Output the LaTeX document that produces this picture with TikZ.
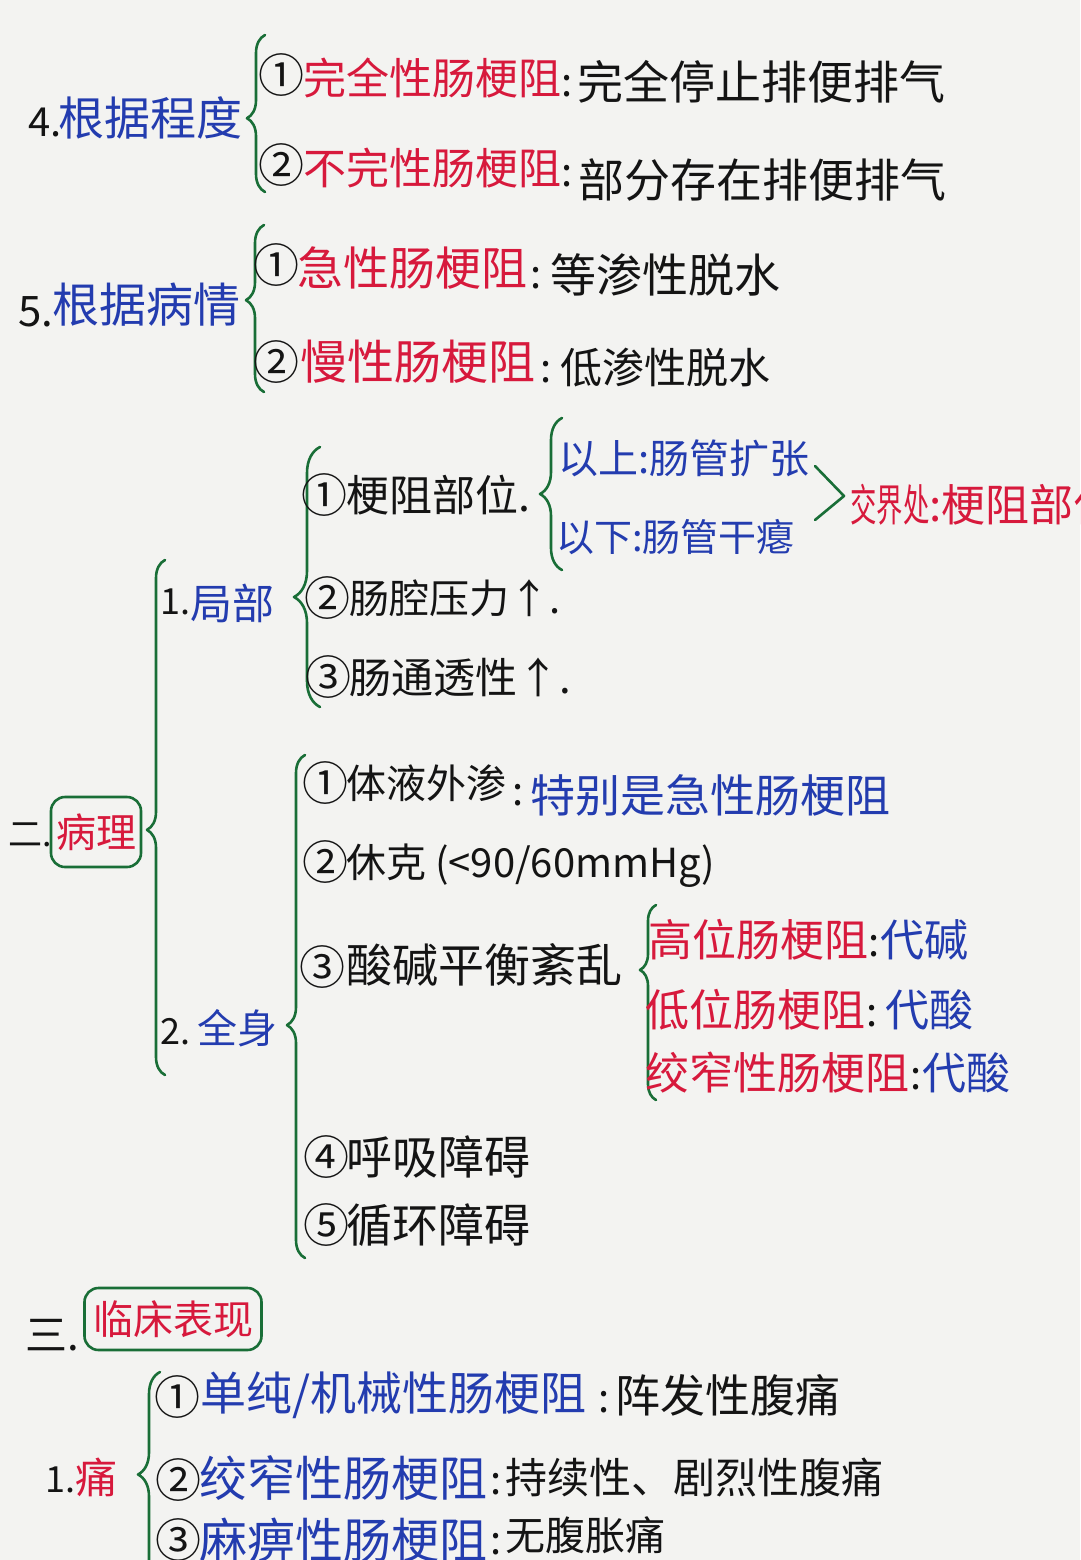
\documentclass[tikz,border=0pt]{standalone}
\usepackage{fontspec}
\newfontfamily\cjk{Noto Sans CJK SC}
\usetikzlibrary{decorations.pathreplacing}
\definecolor{bgc}{RGB}{243,243,241}
\definecolor{pblue}{RGB}{35,60,175}
\definecolor{pred}{RGB}{215,25,60}
\definecolor{pgreen}{RGB}{25,110,55}
\definecolor{pblack}{RGB}{20,20,20}
\begin{document}
\begin{tikzpicture}[x=1pt,y=-1pt,
  every node/.style={inner sep=0pt, anchor=west},
  txt/.style={font=\cjk\fontsize{#1pt}{#1pt}\selectfont, text=pblack},
  txt/.default=44,
  blu/.style={txt=#1, text=pblue}, blu/.default=44,
  rd/.style={txt=#1, text=pred}, rd/.default=44,
  num/.style={txt=46},
  brc/.style n args={2}{draw=pgreen, line width=2.6pt, line cap=round, line join=round,
     decorate, decoration={brace, amplitude=#1, aspect=#2}},
  frame/.style={draw=pgreen, line width=2.6pt, rounded corners=14pt, anchor=center, inner sep=4pt}
]
\clip (0,0) rectangle (1080,1560);
\fill[bgc] (0,0) rectangle (1080,1560);
\useasboundingbox (0,0) rectangle (1080,1560);

% ---------- 4. 根据程度 ----------
\node[txt=40] (n4num) at (28,122) {4.};
\node[blu=46] (n4) at (58,118) {根据程度};
\coordinate (b4t) at (265,35);
\coordinate (b4b) at (265,192);
\draw[brc={18pt}{0.47}] (b4b) -- (b4t);
\node[num] (c41) at (258,75) {①};
\node[rd=43] (r41) at (303,78) {完全性肠梗阻};
\node[txt=40] (k41) at (561,86) {:};
\node[txt=46] (d41) at (577,82) {完全停止排便排气};
\node[num] (c42) at (258,165) {②};
\node[rd=43] (r42) at (303,168) {不完性肠梗阻};
\node[txt=40] (k42) at (561,176) {:};
\node[txt=46] (d42) at (578,180) {部分存在排便排气};

% ---------- 5. 根据病情 ----------
\node[txt=42] (n5num) at (18,312) {5.};
\node[blu=47] (n5) at (52,305) {根据病情};
\coordinate (b5t) at (264,225);
\coordinate (b5b) at (264,392);
\draw[brc={18pt}{0.55}] (b5b) -- (b5t);
\node[num] (c51) at (253,265) {①};
\node[rd=46] (r51) at (297,268) {急性肠梗阻};
\node[txt=40] (k51) at (530,278) {:};
\node[txt=46] (d51) at (550,275) {等渗性脱水};
\node[num] (c52) at (253,362) {②};
\node[rd=47] (r52) at (300,362) {慢性肠梗阻};
\node[txt=40] (k52) at (540,372) {:};
\node[txt=42] (d52) at (560,368) {低渗性脱水};

% ---------- 二. 病理 ----------
\node[txt=34] (n2num) at (8,835) {二.};
\node[frame, rd=40, minimum width=90pt, minimum height=70pt] (bl) at (96,832) {病理};
\coordinate (bBt) at (165,560);
\coordinate (bBb) at (165,1075);
\draw[brc={18pt}{0.476}] (bBb) -- (bBt);

% 1. 局部
\node[txt=36] (l1num) at (160,602) {1.};
\node[blu=42] (l1) at (190,603) {局部};
\coordinate (bLt) at (320,447);
\coordinate (bLb) at (320,707);
\draw[brc={26pt}{0.423}] (bLb) -- (bLt);
\node[num] (c11) at (301,495) {①};
\node[txt=43] (i11) at (346,495) {梗阻部位.};
\coordinate (bPt) at (562,418);
\coordinate (bPb) at (562,570);
\draw[brc={22pt}{0.5}] (bPb) -- (bPt);
\node[blu=40] (up) at (558,458) {以上:肠管扩张};
\node[blu=38] (dn) at (556,537) {以下:肠管干瘪};
\coordinate (gA) at (815,466);
\coordinate (gT) at (844,496);
\coordinate (gB) at (815,520);
\draw[draw=pgreen, line width=2.6pt, line cap=round, line join=round] (gA) -- (gT) -- (gB);
\node[rd=44] (jx) at (850,505) {\scalebox{0.6}[1]{交界处}:梗阻部位};
\node[num] (c12) at (304,598) {②};
\node[txt=40] (i12) at (349,598) {肠腔压力↑.};
\node[num] (c13) at (305,677) {③};
\node[txt=42] (i13) at (349,677) {肠通透性↑.};

% 2. 全身
\node[txt=36] (l2num) at (160,1032) {2.};
\node[blu=40] (l2) at (197,1028) {全身};
\coordinate (bQt) at (305,755);
\coordinate (bQb) at (305,1258);
\draw[brc={18pt}{0.463}] (bQb) -- (bQt);
\node[num] (c21) at (302,783) {①};
\node[txt=40] (i21) at (346,783) {体液外渗};
\node[txt=40] (k21) at (512,795) {:};
\node[blu=45] (d21) at (530,795) {特别是急性肠梗阻};
\node[num] (c22) at (302,862) {②};
\node[txt=40] (i22) at (346,866) {休克 (<90/60mmHg)};
\node[num] (c23) at (299,967) {③};
\node[txt=46] (i23) at (346,965) {酸碱平衡紊乱};
\coordinate (bAt) at (656,905);
\coordinate (bAb) at (656,1100);
\draw[brc={16pt}{0.667}] (bAb) -- (bAt);
\node[rd=44] (a1) at (648,940) {高位肠梗阻};
\node[txt=40] (ka1) at (868,946) {:};
\node[blu=44] (v1) at (880,940) {代碱};
\node[rd=44] (a2) at (645,1010) {低位肠梗阻};
\node[txt=40] (ka2) at (866,1016) {:};
\node[blu=44] (v2) at (885,1010) {代酸};
\node[rd=44] (a3) at (645,1073) {绞窄性肠梗阻};
\node[txt=40] (ka3) at (910,1079) {:};
\node[blu=44] (v3) at (922,1073) {代酸};
\node[num] (c24) at (303,1157) {④};
\node[txt=46] (i24) at (346,1157) {呼吸障碍};
\node[num] (c25) at (303,1225) {⑤};
\node[txt=46] (i25) at (346,1225) {循环障碍};

% ---------- 三. 临床表现 ----------
\node[txt=42] (n3num) at (25,1335) {三.};
\node[frame, rd=40, minimum width=177pt, minimum height=62pt] (lc) at (173,1319) {临床表现};
\node[txt=36] (p1num) at (45,1480) {1.};
\node[rd=42] (p1) at (75,1477) {痛};
\coordinate (bTt) at (160,1372);
\coordinate (bTb) at (160,1590);
\draw[brc={22pt}{0.53}] (bTb) -- (bTt);
\node[num] (c31) at (154,1397) {①};
\node[blu=46] (r31) at (200,1395) {单纯/机械性肠梗阻};
\node[txt=40] (k31) at (598,1402) {:};
\node[txt=45] (d31) at (615,1395) {阵发性腹痛};
\node[num] (c32) at (155,1480) {②};
\node[blu=48] (r32) at (199,1478) {绞窄性肠梗阻};
\node[txt=40] (k32) at (490,1484) {:};
\node[txt=42] (d32) at (505,1477) {持续性、剧烈性腹痛};
\node[num] (c33) at (155,1540) {③};
\node[blu=48] (r33) at (199,1540) {麻痹性肠梗阻};
\node[txt=40] (k33) at (490,1544) {:};
\node[txt=40] (d33) at (505,1535) {无腹胀痛};
\end{tikzpicture}
\end{document}
